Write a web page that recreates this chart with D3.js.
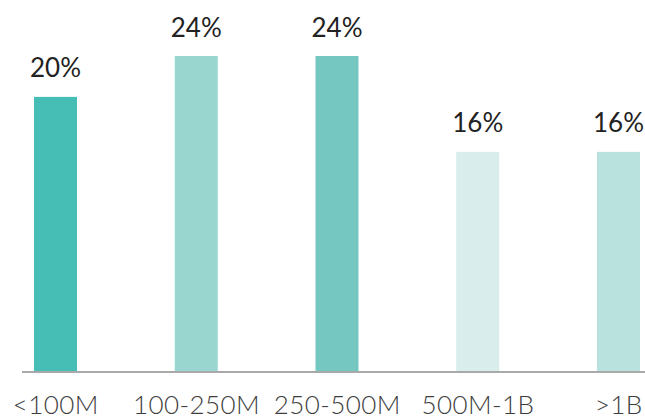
<!DOCTYPE html>
<html>
<head>
<meta charset="utf-8">
<script src="https://cdn.jsdelivr.net/npm/d3@7"></script>
<style>
html,body{margin:0;padding:0;background:#fff;}
svg{display:block;}
</style>
</head>
<body>
<svg id="chart" width="645" height="418"></svg>
<script>
const categories = ["<100M", "100-250M", "250-500M", "500M-1B", ">1B"];
const values = [20.45, 23.5, 23.5, 16.35, 16.35];
const colors = ["#46beb6", "#98d6cf", "#74c8c1", "#d8edec", "#b9e2de"];

const svg = d3.select("#chart");
const baseline = 371;
const x = d3.scalePoint().domain(categories).range([55.5, 618.5]);
const y = d3.scaleLinear().domain([0, 23.5]).range([baseline, 56]);
const barW = 43;

svg.selectAll("rect.bar").data(values).join("rect")
  .attr("class", "bar")
  .attr("x", (d, i) => x(categories[i]) - barW / 2)
  .attr("width", barW)
  .attr("y", d => y(d))
  .attr("height", d => baseline - y(d))
  .attr("fill", (d, i) => colors[i]);

svg.append("line")
  .attr("x1", 22).attr("x2", 645)
  .attr("y1", baseline + 1).attr("y2", baseline + 1)
  .attr("stroke", "#a9a9a9").attr("stroke-width", 2);

svg.selectAll("text.val").data(values).join("text")
  .attr("class", "val")
  .attr("x", (d, i) => x(categories[i]))
  .attr("y", d => y(d) - 19.5)
  .attr("text-anchor", "middle")
  .attr("font-family", "Lato, sans-serif")
  .attr("font-size", 26)
  .attr("fill", "#222")
  .text(d => Math.round(d) + "%");

const ls = 0.4;
svg.selectAll("text.cat").data(categories).join("text")
  .attr("class", "cat")
  .attr("x", d => x(d) + ls / 2)
  .attr("y", 414)
  .attr("text-anchor", "middle")
  .attr("font-family", "Lato, sans-serif")
  .attr("font-weight", 300)
  .attr("font-size", 26)
  .attr("letter-spacing", ls)
  .attr("fill", "#3d3d3d")
  .text(d => d);
</script>
</body>
</html>
